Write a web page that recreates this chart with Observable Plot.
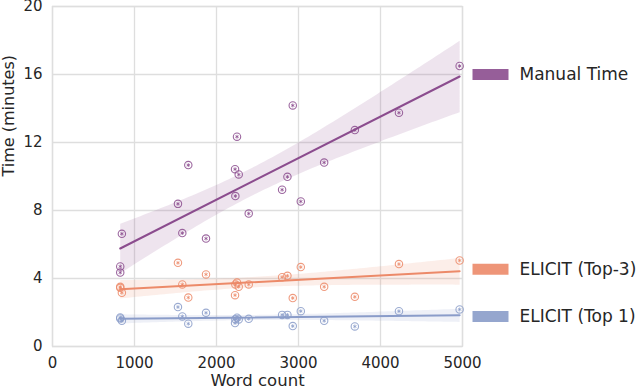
<!DOCTYPE html>
<html><head><meta charset="utf-8">
<script src="https://cdn.jsdelivr.net/npm/d3@7"></script>
<script src="https://cdn.jsdelivr.net/npm/@observablehq/plot@0.6"></script>
<style>body{margin:0;background:#fff}</style>
</head><body><div id="chart"></div>
<script>
const words = [826, 826, 846, 1530, 1583, 1656, 1872, 2226, 2230, 2250, 2271, 2393, 2800, 2865, 2930, 3028, 3313, 3687, 4225, 4965];
const manualTime = [4.71, 4.35, 6.63, 8.39, 6.67, 10.67, 6.35, 10.43, 8.85, 12.34, 10.12, 7.82, 9.22, 9.98, 14.18, 8.53, 10.82, 12.73, 13.75, 16.5];
const elicitTop3 = [3.51, 3.45, 3.16, 4.92, 3.65, 2.88, 4.24, 3.02, 3.65, 3.76, 3.51, 3.65, 4.08, 4.16, 2.85, 4.67, 3.51, 2.92, 4.85, 5.06];
const elicitTop1 = [1.71, 1.65, 1.51, 2.32, 1.77, 1.34, 1.98, 1.38, 1.6, 1.69, 1.59, 1.63, 1.86, 1.86, 1.2, 2.08, 1.51, 1.18, 2.08, 2.18];
const seriesNames = ["Manual Time", "ELICIT (Top-3)", "ELICIT (Top 1)"];
const seriesColors = ["#8b4c8e", "#ec8a69", "#8a9cc9"];
const legendY = [16.0, 4.55, 1.76];
const xTicks = [0, 1000, 2000, 3000, 4000, 5000];
const yTicks = [0, 4, 8, 12, 16, 20];
const xLabel = "Word count";
const yLabel = "Time (minutes)";

const rows = [];
[manualTime, elicitTop3, elicitTop1].forEach((arr, i) =>
  arr.forEach((v, j) => rows.push({words: words[j], time: v, series: seriesNames[i]})));
const legend = seriesNames.map((s, i) => ({series: s, y: legendY[i]}));

const swatch = {draw(ctx) { ctx.rect(-18, -5.5, 36, 11); }};

const chart = Plot.plot({
  width: 640, height: 389,
  marginLeft: 52, marginRight: 178, marginTop: 6, marginBottom: 43,
  style: {fontFamily: "DejaVu Sans", fontSize: "15px", color: "#262626", background: "#fff"},
  x: {domain: [0, 5000]},
  y: {domain: [0, 20]},
  color: {domain: seriesNames, range: seriesColors},
  marks: [
    Plot.gridX(xTicks, {stroke: "#dedede", strokeOpacity: 1, strokeWidth: 1.3}),
    Plot.gridY(yTicks, {stroke: "#dedede", strokeOpacity: 1, strokeWidth: 1.3}),
    Plot.frame({stroke: "#dedede", strokeWidth: 1.3}),
    Plot.axisX({ticks: xTicks, tickSize: 0, tickPadding: 11, tickFormat: d => String(d), label: null, fontSize: 15}),
    Plot.axisY({ticks: yTicks, tickSize: 0, tickPadding: 10, label: null, fontSize: 15}),
    Plot.text([xLabel], {frameAnchor: "bottom", dy: 34, lineAnchor: "middle", fontSize: 16.5, fill: "#262626"}),
    Plot.text([yLabel], {frameAnchor: "left", dx: -44, rotate: -90, lineAnchor: "middle", fontSize: 16, fill: "#262626"}),
    Plot.linearRegressionY(rows, {x: "words", y: "time", stroke: "series", fill: "series",
      ci: 0.95, fillOpacity: 0.15, strokeWidth: 2}),
    Plot.dot(rows, {x: "words", y: "time", stroke: "series", r: 3.7, strokeWidth: 1.1, strokeOpacity: 0.85}),
    Plot.dot(rows, {x: "words", y: "time", stroke: "series", r: 1.8, symbol: "asterisk", strokeWidth: 0.9, strokeOpacity: 0.85}),
    Plot.dot(legend, {x: () => 5000, y: "y", fill: "series", symbol: swatch, dx: 28, fillOpacity: 0.9}),
    Plot.text(legend, {x: () => 5000, y: "y", text: "series", dx: 57, textAnchor: "start", fontSize: 17, fill: "#262626"})
  ]
});
document.getElementById("chart").appendChild(chart);
</script>
</body></html>
